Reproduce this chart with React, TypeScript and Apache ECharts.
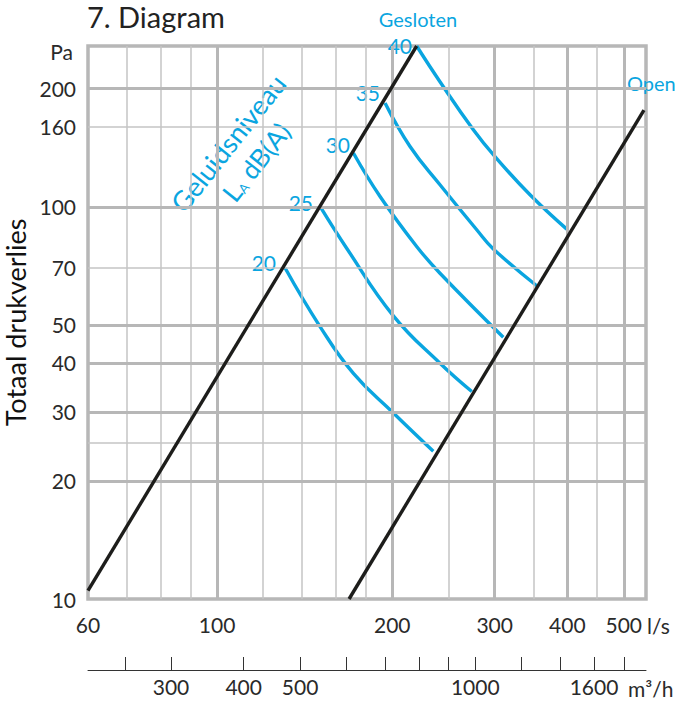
import React, { useEffect, useRef } from 'react';
import * as echarts from 'echarts';

// ---- axis values ----
const xLabelValues = [60, 100, 200, 300, 400, 500];
const yLabelValues = [10, 20, 30, 40, 50, 70, 100, 160, 200];
const m3hLabelValues = [300, 400, 500, 1000, 1600];
const m3hTickValues = [250, 300, 400, 500, 600, 700, 800, 900, 1000, 1200, 1400, 1600, 1800];
const xMajorGrid = [100, 200, 300, 400, 500];
const xMinorGrid = [70, 80, 90, 120, 140, 160, 180, 250, 350, 450];
const yMajorGrid = [20, 30, 40, 50, 100, 200];
const yMinorGrid = [25, 70, 160];

const X_MIN = 60;
const X_MAX = 546;
const Y_MIN = 10;
const Y_MAX = 257;
const LS_TO_M3H = 3.6;

// ---- series values [l/s, Pa] ----
const closedLine = [[60, 10.5], [220.3, 257]];
const openLine = [[168.6, 10], [541.6, 176.3]];

const level20 = [[130.9, 69.8], [150.3, 49.5], [171.5, 37.6], [200.9, 29.8], [235.3, 23.8]];
const level25 = [[150.3, 100.2], [167.0, 78.4], [200.9, 52.7], [241.6, 39.9], [274.0, 33.8]];
const level30 = [[171.5, 137.1], [190.6, 106.2], [220.3, 79.2], [241.6, 67.7], [310.4, 46.5]];
const level35 = [[194.4, 183.9], [214.6, 142.5], [241.6, 113.8], [279.4, 87.4], [298.4, 78.1], [354.3, 62.9]];
const level40 = [[220.3, 257], [241.6, 208.4], [275.7, 157.2], [300.4, 134.2], [345, 107.3], [399.0, 87.7]];

const levelNames = ['20', '25', '30', '35', '40'];
const levelCurves = [level20, level25, level30, level35, level40];

const FONT = 'Lato, "Noto Sans", sans-serif';
const BLUE = '#0aa5e0';
const BLACK = '#1d1d1b';
const TEXT = '#2a2a2a';
const GRID_MAJOR = '#b7b7b7';
const GRID_MINOR = '#c4c4c4';

function gridSeries(name: string, xs: number[], ys: number[], width: number, color: string) {
  return {
    type: 'line',
    name,
    data: [],
    z: 1,
    silent: true,
    markLine: {
      silent: true,
      animation: false,
      symbol: ['none', 'none'],
      label: { show: false },
      emphasis: { disabled: true },
      lineStyle: { color, width, type: 'solid' },
      data: [...xs.map((v) => ({ xAxis: v })), ...ys.map((v) => ({ yAxis: v }))],
    },
  };
}

function text(x: number, y: number, t: string, size: number, fill: string, align = 'left', extra: any = {}) {
  return {
    type: 'text',
    x,
    y,
    silent: true,
    ...extra,
    style: {
      text: t,
      fontSize: size,
      fontFamily: FONT,
      fill,
      align,
      verticalAlign: 'middle',
    },
  };
}

export default function App() {
  const ref = useRef<HTMLDivElement>(null);

  useEffect(() => {
    const chart = echarts.init(ref.current!, null, { renderer: 'svg' });

    const labelFmt = (v: number) => String(Math.round(v));

    const option: any = {
      animation: false,
      backgroundColor: '#ffffff',
      grid: {
        left: 88,
        top: 46,
        width: 558,
        height: 553,
        show: true,
        borderColor: GRID_MAJOR,
        borderWidth: 3.5,
        backgroundColor: 'transparent',
        containLabel: false,
        outerBoundsMode: 'none',
      },
      xAxis: [
        {
          type: 'log',
          logBase: 10,
          min: X_MIN,
          max: X_MAX,
          axisLine: { show: false },
          axisTick: { show: false },
          splitLine: { show: false },
          minorSplitLine: { show: false },
          axisLabel: {
            customValues: xLabelValues,
            formatter: labelFmt,
            margin: 15,
            fontSize: 21,
            fontFamily: FONT,
            color: TEXT,
          },
        },
        {
          type: 'log',
          logBase: 10,
          min: X_MIN * LS_TO_M3H,
          max: X_MAX * LS_TO_M3H,
          position: 'bottom',
          offset: 71,
          axisLine: { show: true, lineStyle: { color: '#333', width: 1 } },
          axisTick: {
            show: true,
            inside: true,
            length: 13,
            customValues: m3hTickValues,
            lineStyle: { color: '#333', width: 1 },
          },
          splitLine: { show: false },
          axisLabel: {
            customValues: m3hLabelValues,
            formatter: labelFmt,
            margin: 6,
            fontSize: 21,
            fontFamily: FONT,
            color: TEXT,
          },
        },
      ],
      yAxis: {
        type: 'log',
        logBase: 10,
        min: Y_MIN,
        max: Y_MAX,
        name: 'Totaal drukverlies',
        nameLocation: 'middle',
        nameRotate: 90,
        nameGap: 57,
        nameTextStyle: { fontSize: 27, fontFamily: FONT, color: '#111' },
        axisLine: { show: false },
        axisTick: { show: false },
        splitLine: { show: false },
        axisLabel: {
          customValues: yLabelValues,
          formatter: labelFmt,
          margin: 12,
          fontSize: 21,
          fontFamily: FONT,
          color: TEXT,
        },
      },
      series: [
        gridSeries('minor grid', xMinorGrid, yMinorGrid, 1.5, GRID_MINOR),
        gridSeries('major grid', xMajorGrid, yMajorGrid, 3, GRID_MAJOR),
        ...levelCurves.map((d, i) => ({
          type: 'line',
          name: 'LA ' + levelNames[i] + ' dB(A)',
          data: d,
          smooth: 0.45,
          showSymbol: false,
          symbol: 'none',
          z: 4,
          lineStyle: { color: BLUE, width: 3.4 },
        })),
        {
          type: 'line',
          name: 'Gesloten',
          data: closedLine,
          showSymbol: false,
          symbol: 'none',
          z: 5,
          lineStyle: { color: BLACK, width: 3.4 },
        },
        {
          type: 'line',
          name: 'Open',
          data: openLine,
          showSymbol: false,
          symbol: 'none',
          z: 5,
          lineStyle: { color: BLACK, width: 3.4 },
        },
      ],
      graphic: [
        text(87, 16.5, '7. Diagram', 29, '#222'),
        text(73, 51, 'Pa', 21, TEXT, 'right'),
        text(647, 625, 'l/s', 21, TEXT),
        text(628, 688, 'm³/h', 21, TEXT),
        text(418, 19, 'Gesloten', 20, BLUE, 'center'),
        text(627, 82.5, 'Open', 20, BLUE),
        text(412, 45.5, levelNames[4], 21, BLUE, 'right'),
        text(380, 92, levelNames[3], 21, BLUE, 'right'),
        text(350, 144, levelNames[2], 21, BLUE, 'right'),
        text(313, 202, levelNames[1], 21, BLUE, 'right'),
        text(276, 262, levelNames[0], 21, BLUE, 'right'),
        text(228, 143, 'Geluidsniveau', 27, BLUE, 'center', { rotation: 0.9 }),
        {
          type: 'text',
          x: 256,
          y: 162,
          rotation: 0.9,
          silent: true,
          style: {
            text: '{L|L}{A|A} dB(A)',
            fontSize: 26,
            fontFamily: FONT,
            fill: BLUE,
            align: 'center',
            verticalAlign: 'middle',
            rich: {
              L: { fontSize: 26, fontFamily: FONT, fill: BLUE },
              A: { fontSize: 13, fontFamily: FONT, fill: BLUE, verticalAlign: 'bottom' },
            },
          },
        },
      ],
    };

    chart.setOption(option);
    return () => chart.dispose();
  }, []);

  return (
    <div
      ref={ref}
      style={{ position: 'fixed', left: 0, top: 0, width: 679, height: 702, background: '#fff' }}
    />
  );
}
